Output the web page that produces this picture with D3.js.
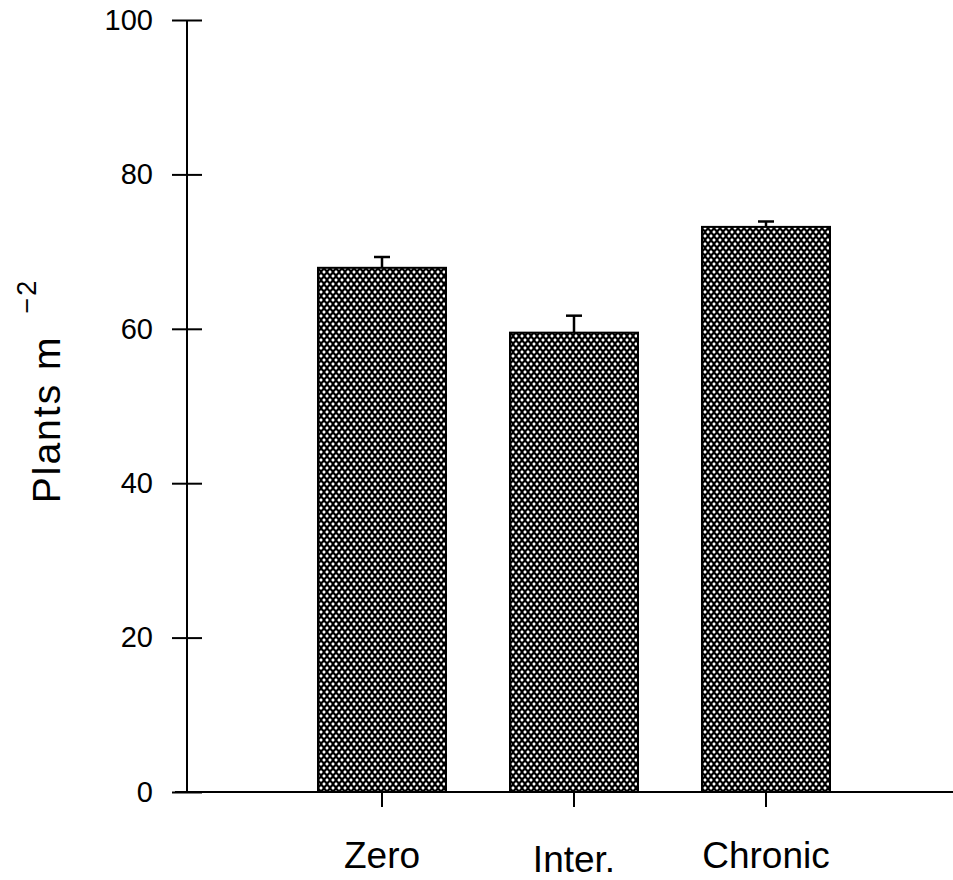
<!DOCTYPE html>
<html>
<head>
<meta charset="utf-8">
<script src="https://cdn.jsdelivr.net/npm/d3@7"></script>
<style>
  body { margin: 0; background: #fff; }
  text { font-family: "Liberation Sans", Arial, sans-serif; fill: #000; }
</style>
</head>
<body>
<div id="chart"></div>
<script>
// Data
const categories = ["Zero", "Inter.", "Chronic"];
const means = [67.9, 59.5, 73.2];
const errors = [1.4, 2.2, 0.7];
const yTicks = [0, 20, 40, 60, 80, 100];

const width = 953;
const height = 880;
const axisX = 187;
const marginTop = 20;
const baseY = 792;

const data = categories.map((c, i) => ({ cat: c, mean: means[i], err: errors[i] }));

const x = d3.scaleBand()
  .domain(categories)
  .range([286, 862])
  .paddingInner(1 / 3)
  .paddingOuter(1 / 6);

const y = d3.scaleLinear()
  .domain([0, 100])
  .range([baseY, marginTop]);

const svg = d3.select("#chart").append("svg")
  .attr("width", width)
  .attr("height", height)
  .attr("viewBox", [0, 0, width, height]);

// Crosshatch pattern for the bars
const pat = svg.append("defs").append("pattern")
  .attr("id", "hatch")
  .attr("patternUnits", "userSpaceOnUse")
  .attr("width", 6)
  .attr("height", 8);
pat.append("rect").attr("width", 6).attr("height", 8).attr("fill", "#000");
const diamond = (cx, cy) => `M${cx - 1.8},${cy}L${cx},${cy - 2}L${cx + 1.8},${cy}L${cx},${cy + 2}Z`;
[[0, 0], [6, 0], [0, 8], [6, 8], [3, 4]].forEach(([cx, cy]) => {
  pat.append("path").attr("d", diamond(cx, cy)).attr("fill", "#fff");
});

// Bars
svg.append("g")
  .selectAll("rect")
  .data(data)
  .join("rect")
  .attr("x", d => x(d.cat))
  .attr("y", d => y(d.mean))
  .attr("width", x.bandwidth())
  .attr("height", d => y(0) - y(d.mean))
  .attr("fill", "url(#hatch)")
  .attr("stroke", "#000")
  .attr("stroke-width", 2);

// Error bars (upper only)
const eb = svg.append("g")
  .attr("stroke", "#000")
  .attr("stroke-width", 2.5);
eb.selectAll("line.stem")
  .data(data)
  .join("line")
  .attr("class", "stem")
  .attr("x1", d => x(d.cat) + x.bandwidth() / 2)
  .attr("x2", d => x(d.cat) + x.bandwidth() / 2)
  .attr("y1", d => y(d.mean))
  .attr("y2", d => y(d.mean + d.err));
eb.selectAll("line.cap")
  .data(data)
  .join("line")
  .attr("class", "cap")
  .attr("x1", d => x(d.cat) + x.bandwidth() / 2 - 8)
  .attr("x2", d => x(d.cat) + x.bandwidth() / 2 + 8)
  .attr("y1", d => y(d.mean + d.err))
  .attr("y2", d => y(d.mean + d.err));

// Y axis with ticks crossing the line
svg.append("g")
  .attr("transform", `translate(${axisX},0)`)
  .call(d3.axisLeft(y).tickValues(yTicks).tickSize(15).tickPadding(19).tickFormat(d3.format("d")))
  .call(g => g.select(".domain").remove())
  .call(g => g.selectAll(".tick line").attr("stroke-width", 2)
    .clone().attr("x2", 15))
  .call(g => g.selectAll(".tick text")
    .attr("font-size", 29)
    .attr("font-family", "Liberation Sans, Arial, sans-serif"));

svg.append("line")
  .attr("x1", axisX).attr("x2", axisX)
  .attr("y1", y(100)).attr("y2", y(0))
  .attr("stroke", "#000").attr("stroke-width", 2);

// X axis
svg.append("g")
  .attr("transform", `translate(0,${baseY})`)
  .call(d3.axisBottom(x).tickSize(15).tickPadding(35))
  .call(g => g.select(".domain").remove())
  .call(g => g.selectAll(".tick line").attr("stroke-width", 2))
  .call(g => g.selectAll(".tick text")
    .attr("font-size", 37)
    .attr("font-family", "Liberation Sans, Arial, sans-serif")
    .attr("dy", (d, i) => i === 1 ? "0.8em" : "0.7em"));

svg.append("line")
  .attr("x1", 175).attr("x2", width)
  .attr("y1", baseY).attr("y2", baseY)
  .attr("stroke", "#000").attr("stroke-width", 2);

// Y axis title
const yLabel = svg.append("text")
  .attr("transform", `translate(60,${(y(0) + y(100)) / 2 - 15}) rotate(-90)`)
  .attr("text-anchor", "middle")
  .attr("font-size", 39)
  .attr("letter-spacing", 2);
yLabel.append("tspan").text("Plants m");
yLabel.append("tspan")
  .attr("dy", -24)
  .attr("dx", 22)
  .attr("font-size", 27)
  .text("−2");
</script>
</body>
</html>
